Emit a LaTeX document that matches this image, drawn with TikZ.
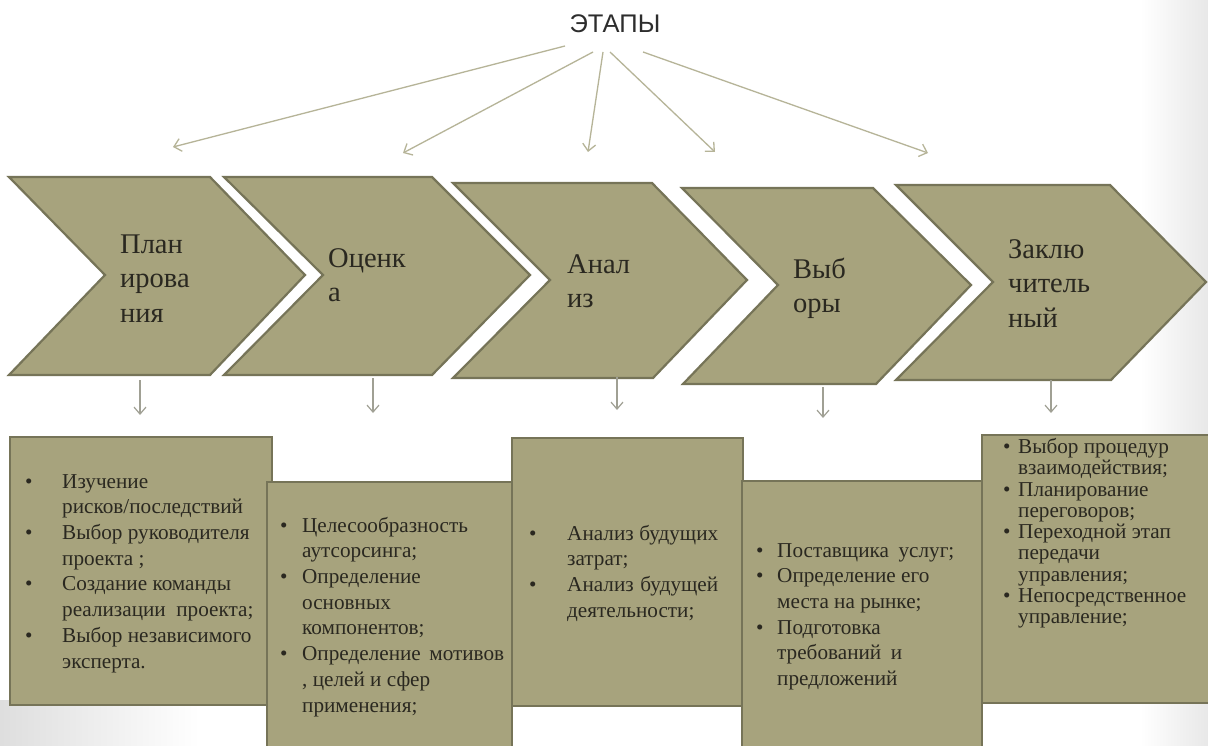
\documentclass[tikz,border=0pt]{standalone}
\usepackage{fontspec}
\setmainfont{Liberation Serif}
\newfontfamily\titlefont{Liberation Sans}
\usetikzlibrary{arrows.meta}
\definecolor{khaki}{RGB}{167,163,125}
\definecolor{khakiedge}{RGB}{118,116,88}
\definecolor{inktext}{RGB}{42,40,32}
\definecolor{titleink}{RGB}{45,45,45}
\definecolor{toparrow}{RGB}{182,180,152}
\definecolor{downarrow}{RGB}{160,160,148}
\definecolor{vignette}{RGB}{222,222,222}
\newcommand{\bul}[1]{\makebox[#1][l]{•}}
\begin{document}
\begin{tikzpicture}[x=1pt,y=-1pt,
  chev/.style={fill=khaki,draw=khakiedge,line width=2.2pt,line join=miter},
  listbox/.style={fill=khaki,draw=khakiedge,line width=2.6pt},
  stagetext/.style={anchor=north west,inner sep=0pt,text=inktext,font=\fontsize{28.5}{34.5}\selectfont},
  listtext/.style={anchor=north west,inner sep=0pt,text=inktext,font=\fontsize{21.2}{25.7}\selectfont},
  toparr/.style={draw=toparrow,line width=1.3pt,-{Straight Barb[length=7pt,width=13pt]}},
  downarr/.style={draw=downarrow,line width=1.2pt,-{Straight Barb[length=7pt,width=12pt]}}]
\useasboundingbox (0,0) rectangle (1208,746);
\fill[white] (0,0) rectangle (1208,746);
% background vignette
\shade[left color=white,right color=vignette!70] (1140,0) rectangle (1208,746);
\shade[left color=vignette,right color=white] (0,700) rectangle (200,746);

% title
\node[font=\titlefont\fontsize{25.5}{30}\selectfont,text=titleink,anchor=base,inner sep=0pt] (title) at (615,33) {ЭТАПЫ};

% top arrow coordinates
\coordinate (s1) at (565,46);  \coordinate (e1) at (173,147);
\coordinate (s2) at (593,52);  \coordinate (e2) at (403,153);
\coordinate (s3) at (603,52);  \coordinate (e3) at (588,152);
\coordinate (s4) at (610,52);  \coordinate (e4) at (715,152);
\coordinate (s5) at (643,52);  \coordinate (e5) at (928,153);
\foreach \i in {1,...,5} \draw[toparr] (s\i) -- (e\i);

% chevrons
\draw[chev] (9,177) -- (210,177) -- (305,275) -- (210,375) -- (9,375) -- (105,275) -- cycle;
\draw[chev] (224,177) -- (432,177) -- (530,275) -- (432,375) -- (224,375) -- (323,275) -- cycle;
\draw[chev] (453,183) -- (652,183) -- (747,280) -- (653,378) -- (453,378) -- (550,280) -- cycle;
\draw[chev] (682,188) -- (873,188) -- (971,285) -- (876,384) -- (683,384) -- (778,285) -- cycle;
\draw[chev] (896,185) -- (1110,185) -- (1206,282) -- (1111,380) -- (896,380) -- (993,282) -- cycle;

\node[stagetext] (st1) at (120,228.85) {\begin{tabular}{@{}l@{}}План\\ирова\\ния\end{tabular}};
\node[stagetext] (st2) at (328,242.85) {\begin{tabular}{@{}l@{}}Оценк\\а\end{tabular}};
\node[stagetext] (st3) at (567,248.85) {\begin{tabular}{@{}l@{}}Анал\\из\end{tabular}};
\node[stagetext] (st4) at (793,253.85) {\begin{tabular}{@{}l@{}}Выб\\оры\end{tabular}};
\node[stagetext] (st5) at (1008,233.85) {\begin{tabular}{@{}l@{}}Заклю\\читель\\ный\end{tabular}};

% down arrows
\coordinate (a1) at (140,380); \coordinate (b1) at (140,415);
\coordinate (a2) at (373,378); \coordinate (b2) at (373,413);
\coordinate (a3) at (617,377); \coordinate (b3) at (617,410);
\coordinate (a4) at (823,387); \coordinate (b4) at (823,418);
\coordinate (a5) at (1051,380); \coordinate (b5) at (1051,413);
\foreach \i in {1,...,5} \draw[downarr] (a\i) -- (b\i);

% list boxes
\draw[listbox] (10,437) rectangle (272,705);
\node[listtext] (l1) at (25,470) {\begin{tabular}{@{}l@{}}
\bul{37pt}Изучение\\
\hspace*{37pt}рисков/последствий\\
\bul{37pt}Выбор руководителя\\
\hspace*{37pt}проекта ;\\
\bul{37pt}Создание команды\\
\hspace*{37pt}реализации\hspace{0.5em}проекта;\\
\bul{37pt}Выбор независимого\\
\hspace*{37pt}эксперта.
\end{tabular}};

\draw[listbox] (267,482) rectangle (512,760);
\node[listtext] (l2) at (280,514) {\begin{tabular}{@{}l@{}}
\bul{22pt}Целесообразность\\
\hspace*{22pt}аутсорсинга;\\
\bul{22pt}Определение\\
\hspace*{22pt}основных\\
\hspace*{22pt}компонентов;\\
\bul{22pt}Определение\hspace{0.4em}мотивов\\
\hspace*{22pt}, целей и сфер\\
\hspace*{22pt}применения;
\end{tabular}};

\draw[listbox] (512,438) rectangle (743,706);
\node[listtext] (l3) at (529,522) {\begin{tabular}{@{}l@{}}
\bul{38pt}\makebox[151pt][s]{Анализ будущих}\\
\hspace*{38pt}затрат;\\
\bul{38pt}\makebox[151pt][s]{Анализ будущей}\\
\hspace*{38pt}деятельности;
\end{tabular}};

\draw[listbox] (742,481) rectangle (982,760);
\node[listtext] (l4) at (756,539) {\begin{tabular}{@{}l@{}}
\bul{21pt}Поставщика\hspace{0.45em}услуг;\\
\bul{21pt}Определение его\\
\hspace*{21pt}места на рынке;\\
\bul{21pt}Подготовка\\
\hspace*{21pt}требований\hspace{0.45em}и\\
\hspace*{21pt}предложений
\end{tabular}};

\draw[listbox] (982,435) rectangle (1216,703);
\node[listtext,font=\fontsize{21.2}{21.3}\selectfont] (l5) at (1003,438.1) {\begin{tabular}{@{}l@{}}
\bul{15pt}Выбор процедур\\
\hspace*{15pt}взаимодействия;\\
\bul{15pt}Планирование\\
\hspace*{15pt}переговоров;\\
\bul{15pt}Переходной этап\\
\hspace*{15pt}передачи\\
\hspace*{15pt}управления;\\
\bul{15pt}Непосредственное\\
\hspace*{15pt}управление;
\end{tabular}};
\end{tikzpicture}
\end{document}
